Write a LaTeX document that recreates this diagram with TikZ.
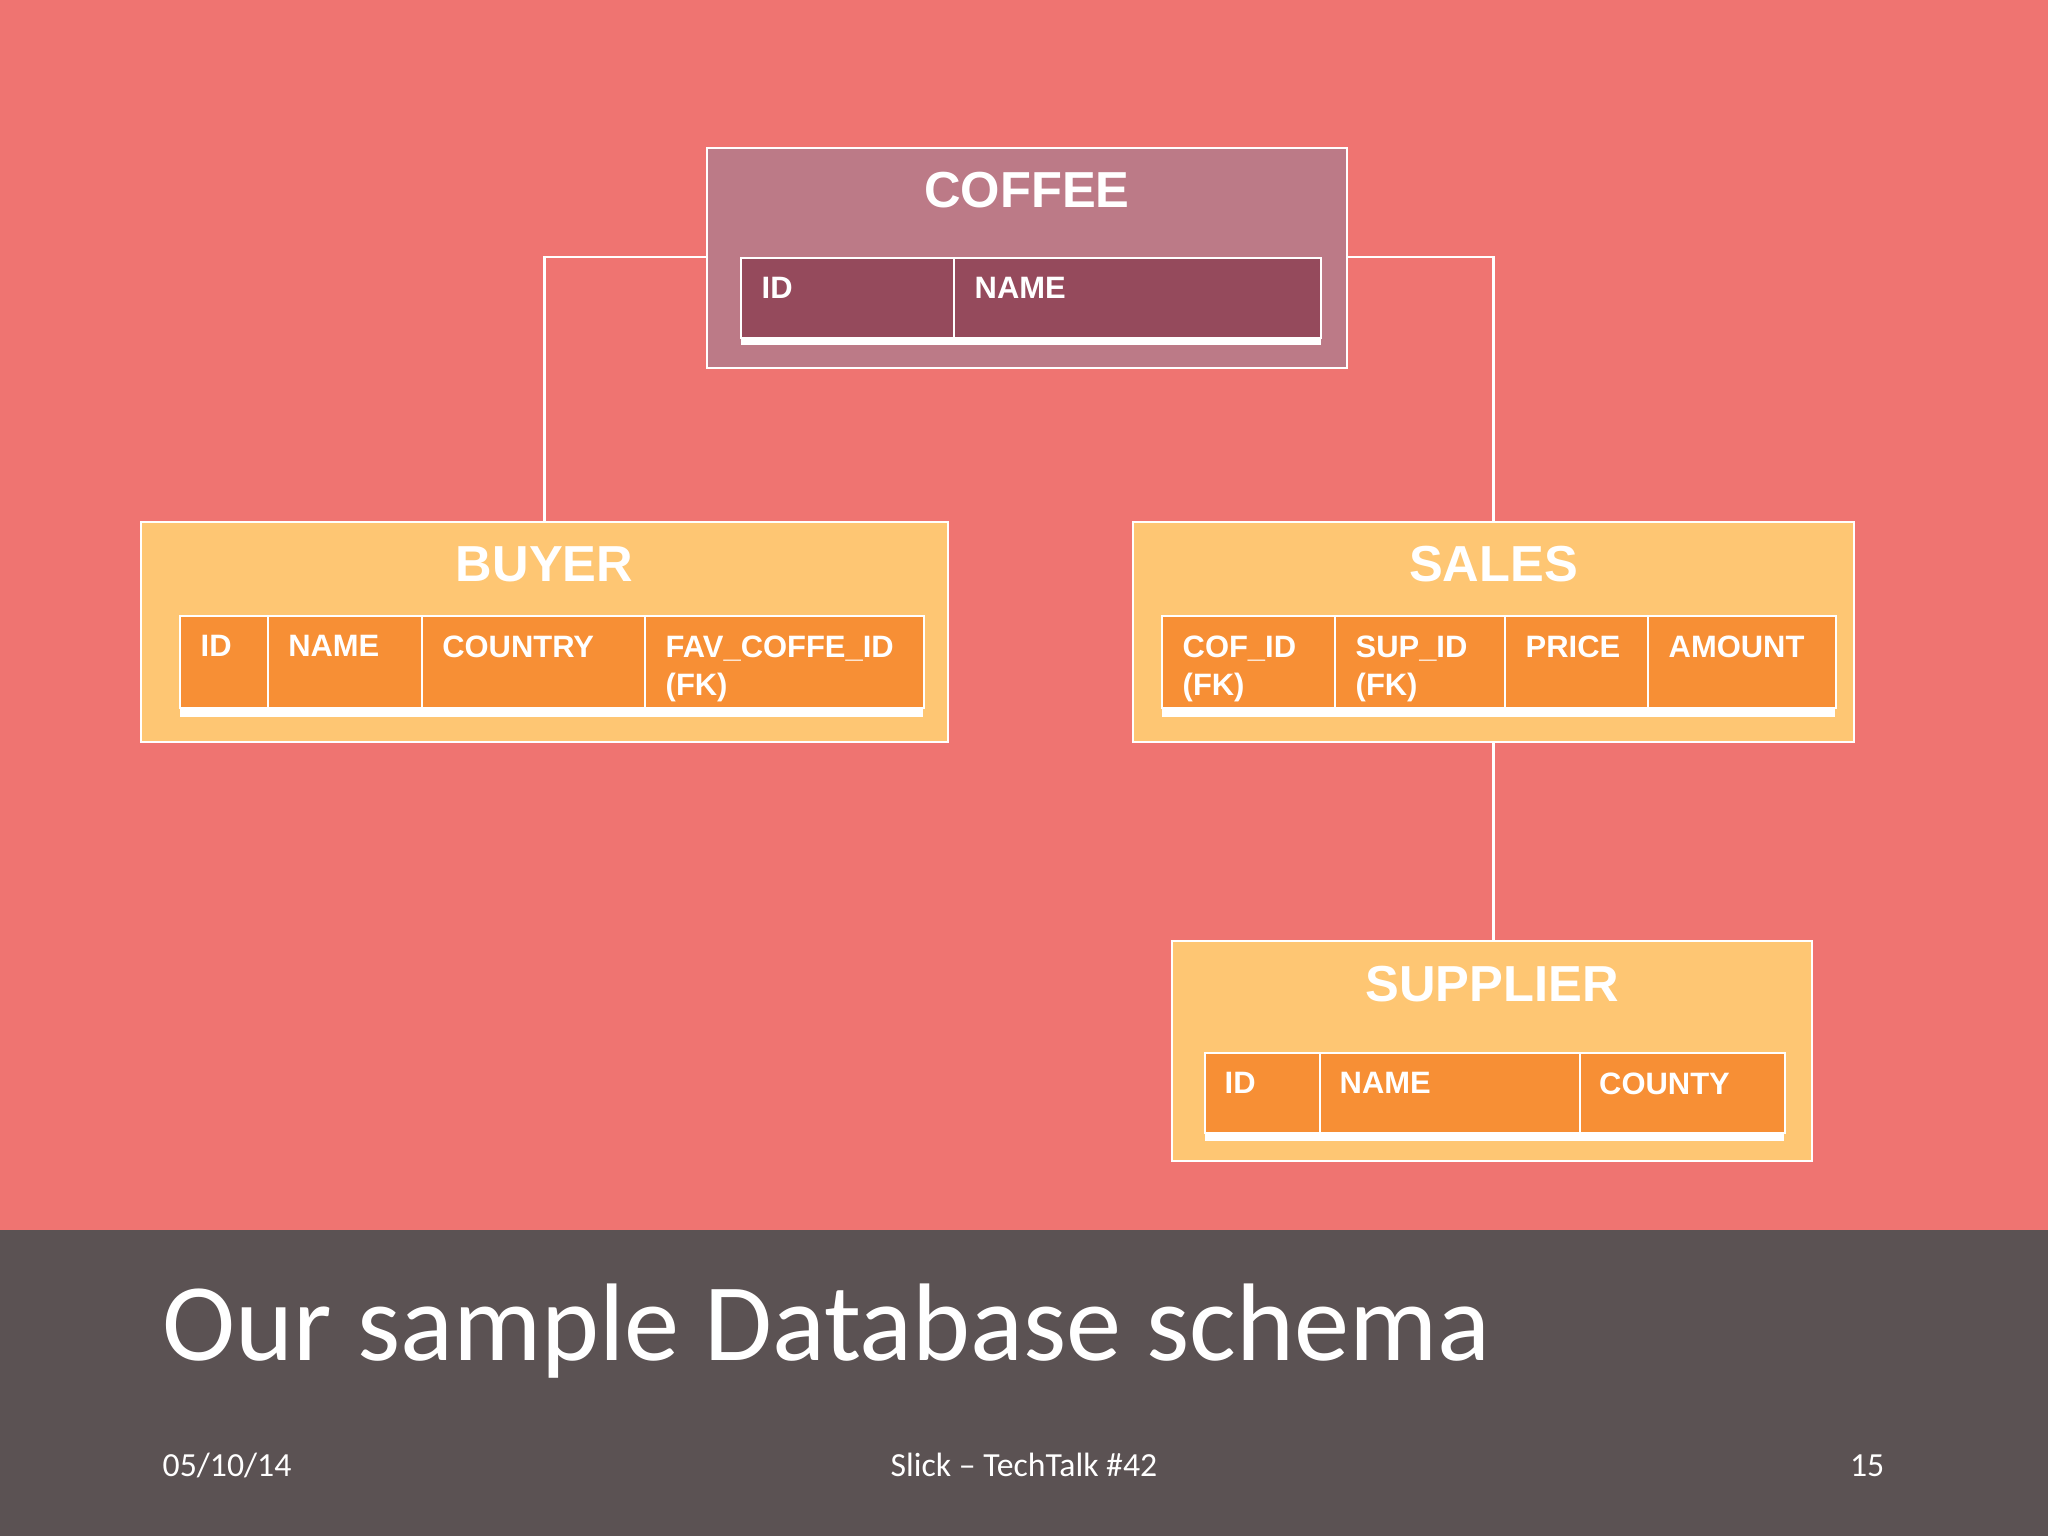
\documentclass[tikz,border=0pt]{standalone}
\usepackage{fontspec}
\setmainfont{Liberation Sans}
\newfontfamily\slidefont{Carlito}
\definecolor{salmon}{HTML}{EF7471}
\definecolor{band}{HTML}{5B5253}
\definecolor{coffeebox}{HTML}{BC7A87}
\definecolor{coffeecell}{HTML}{954A5C}
\definecolor{orangebox}{HTML}{FEC673}
\definecolor{orangecell}{HTML}{F78F35}
\begin{document}
\begin{tikzpicture}[x=1cm, y=-1cm,
    tablebox/.style={draw=white, line width=0.5pt, inner sep=0pt},
    tabletitle/.style={text=white, inner sep=0pt, font=\bfseries\fontsize{14.4}{16}\selectfont},
    fieldrow/.style={fill=white, inner sep=0pt, anchor=north west},
    fieldcell/.style={draw=white, line width=0.7pt, inner sep=0pt, anchor=north west},
    fieldname/.style={text=white, inner sep=0pt, anchor=north west, align=left, font=\bfseries\fontsize{8.8}{11}\selectfont},
    link/.style={draw=white, line width=0.7pt},
    slidetext/.style={text=white, inner sep=0pt, font=\slidefont\fontsize{9.6}{11}\selectfont}]

    % slide background
    \fill[salmon] (0,0) rectangle (20.48,15.36);
    \fill[band] (0,12.30) rectangle (20.48,15.36);
    \useasboundingbox (0,0) rectangle (20.48,15.36);

    % tables
    \node[tablebox, fill=coffeebox, minimum width=6.40cm, minimum height=2.20cm] (coffee) at (10.27,2.58) {};
    \node[tablebox, fill=orangebox, minimum width=8.07cm, minimum height=2.20cm] (buyer) at (5.445,6.32) {};
    \node[tablebox, fill=orangebox, minimum width=7.21cm, minimum height=2.20cm] (sales) at (14.935,6.32) {};
    \node[tablebox, fill=orangebox, minimum width=6.40cm, minimum height=2.20cm] (supplier) at (14.92,10.51) {};

    \node[tabletitle] (coffeetitle) at ([yshift=-0.43cm]coffee.north) {COFFEE};
    \node[tabletitle] (buyertitle) at ([yshift=-0.43cm]buyer.north) {BUYER};
    \node[tabletitle] (salestitle) at ([yshift=-0.43cm]sales.north) {SALES};
    \node[tabletitle] (suppliertitle) at ([yshift=-0.44cm]supplier.north) {SUPPLIER};

    % field rows
    \node[fieldrow, minimum width=5.80cm, minimum height=0.87cm] (coffeetab) at (7.40,2.57) {};
    \foreach \x/\w/\t [count=\i] in {7.40/2.13/ID, 9.53/3.67/NAME}{
      \node[fieldcell, fill=coffeecell, minimum width=\w cm, minimum height=0.80cm] (cof\i) at (\x,2.57) {};
      \node[fieldname] (cofname\i) at ([xshift=0.21cm, yshift=-0.2cm]cof\i.north west) {\t};
    }

    \node[fieldrow, minimum width=7.435cm, minimum height=1.01cm] (buyertab) at (1.79,6.15) {};
    \foreach \x/\w/\t [count=\i] in {1.79/0.876/ID, 2.666/1.54/NAME, 4.206/2.234/COUNTRY, 6.44/2.785/{FAV\_COFFE\_ID\\(FK)}}{
      \node[fieldcell, fill=orangecell, minimum width=\w cm, minimum height=0.92cm] (buy\i) at (\x,6.15) {};
      \node[fieldname] (buyname\i) at ([xshift=0.21cm, yshift=-0.2cm]buy\i.north west) {\t};
    }

    \node[fieldrow, minimum width=6.735cm, minimum height=1.01cm] (salestab) at (11.61,6.15) {};
    \foreach \x/\w/\t [count=\i] in {11.61/1.73/{COF\_ID\\(FK)}, 13.34/1.70/{SUP\_ID\\(FK)}, 15.04/1.43/PRICE, 16.47/1.875/AMOUNT}{
      \node[fieldcell, fill=orangecell, minimum width=\w cm, minimum height=0.92cm] (sal\i) at (\x,6.15) {};
      \node[fieldname] (salname\i) at ([xshift=0.21cm, yshift=-0.2cm]sal\i.north west) {\t};
    }

    \node[fieldrow, minimum width=5.796cm, minimum height=0.88cm] (suppliertab) at (12.04,10.52) {};
    \foreach \x/\w/\t [count=\i] in {12.04/1.15/ID, 13.19/2.595/NAME, 15.785/2.05/COUNTY}{
      \node[fieldcell, fill=orangecell, minimum width=\w cm, minimum height=0.80cm] (sup\i) at (\x,10.52) {};
      \node[fieldname] (supname\i) at ([xshift=0.2cm, yshift=-0.2cm]sup\i.north west) {\t};
    }

    % links
    \draw[link] (coffee.west |- coffeetab.north) -| (buyer.north);
    \draw[link] (coffee.east |- coffeetab.north) -| (sales.north);
    \draw[link] (sales.south) -- (sales.south |- supplier.north);

    % slide texts
    \node[slidetext, anchor=base west, font=\slidefont\fontsize{31.4}{38}\selectfont] (slidetitle) at (1.62,13.60) {Our sample Database schema};
    \node[slidetext, anchor=base west] (date) at (1.62,14.76) {05/10/14};
    \node[slidetext, anchor=base] (footer) at (10.24,14.76) {Slick – TechTalk \#42};
    \node[slidetext, anchor=base east] (page) at (18.85,14.76) {15};
\end{tikzpicture}
\end{document}
